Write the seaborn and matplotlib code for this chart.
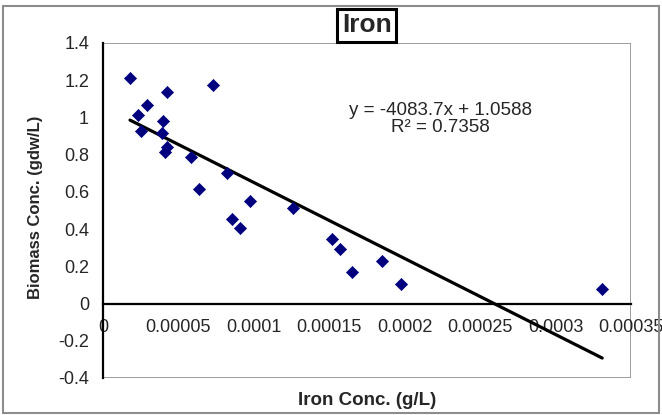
"""Iron concentration vs biomass concentration scatter with linear trend line."""

import matplotlib

matplotlib.use("Agg")
import matplotlib.pyplot as plt
import numpy as np
import pandas as pd
import seaborn as sns
from matplotlib.patches import Rectangle
from matplotlib.ticker import FuncFormatter, MultipleLocator

IRON_CONC = [
    1.79e-5, 2.32e-5, 2.92e-5, 2.52e-5, 3.98e-5, 3.91e-5, 4.24e-5, 4.24e-5,
    4.11e-5, 7.29e-5, 5.84e-5, 6.37e-5, 8.22e-5, 8.55e-5, 9.08e-5, 9.75e-5,
    1.26e-4, 1.52e-4, 1.57e-4, 1.65e-4, 1.85e-4, 1.976e-4, 3.31e-4,
]
BIOMASS = [
    1.213, 1.013, 1.067, 0.927, 0.982, 0.917, 1.137, 0.842,
    0.815, 1.175, 0.788, 0.616, 0.702, 0.455, 0.406, 0.551,
    0.514, 0.347, 0.293, 0.170, 0.229, 0.105, 0.078,
]
SLOPE = -4083.7
INTERCEPT = 1.0588
R_SQUARED = 0.7358

FONT = ["Liberation Sans", "DejaVu Sans"]


def tick_fmt(value, _pos):
    text = f"{value:.5f}".rstrip("0").rstrip(".")
    return "0" if text in ("-0", "0") else text


def main() -> None:
    sns.set_style("white")
    plt.rcParams["font.family"] = FONT

    df = pd.DataFrame({"iron": IRON_CONC, "biomass": BIOMASS})

    fig = plt.figure(figsize=(6.62, 4.15), dpi=100)
    ax = fig.add_axes([0.1556, 0.0892, 0.953 - 0.1556, 0.8964 - 0.0892])

    # trend line across the data range
    xs = np.array([df["iron"].min(), df["iron"].max()])
    sns.lineplot(x=xs, y=SLOPE * xs + INTERCEPT, ax=ax, color="black", linewidth=2.3)

    sns.scatterplot(
        data=df, x="iron", y="biomass", ax=ax, marker="D", s=38,
        color="#00007F", edgecolor="#00007F", linewidth=0.5, zorder=3,
    )

    ax.set_xlim(0, 0.00035)
    ax.set_ylim(-0.4, 1.4)
    ax.xaxis.set_major_locator(MultipleLocator(0.00005))
    ax.yaxis.set_major_locator(MultipleLocator(0.2))
    ax.xaxis.set_major_formatter(FuncFormatter(tick_fmt))
    ax.yaxis.set_major_formatter(FuncFormatter(tick_fmt))

    # Excel-style axis crossing at y = 0
    ax.spines["bottom"].set_position(("data", 0))
    ax.spines["bottom"].set_color("black")
    ax.spines["bottom"].set_linewidth(1.6)
    ax.spines["left"].set_color("black")
    ax.spines["left"].set_linewidth(1.6)
    ax.spines["top"].set_visible(False)
    ax.spines["right"].set_visible(False)
    ax.add_patch(Rectangle((0, 0), 1, 1, transform=ax.transAxes, fill=False,
                           edgecolor="#8C8C8C", linewidth=1.2, zorder=0))

    ax.tick_params(axis="both", direction="out", length=5, width=1.6,
                   color="black", labelsize=13)
    ax.tick_params(axis="x", pad=6)
    ax.tick_params(axis="y", pad=5)

    ax.set_xlabel("")
    ax.set_ylabel("")
    fig.text(0.554, 0.036, "Iron Conc. (g/L)", ha="center", va="center",
             fontsize=13.5, fontweight="bold")
    fig.text(0.053, 0.501, "Biomass Conc. (gdw/L)", ha="center", va="center",
             rotation=90, fontsize=12, fontweight="bold")

    fig.text(0.554, 0.939, "Iron", ha="center", va="center", fontsize=19,
             fontweight="bold",
             bbox=dict(boxstyle="square,pad=0.18", facecolor="white",
                       edgecolor="black", linewidth=2.2))

    ax.text(0.000224, 1.036, f"y = {SLOPE}x + {INTERCEPT}", ha="center",
            va="center", fontsize=13.5)
    ax.text(0.000224, 0.944, f"R² = {R_SQUARED}", ha="center", va="center",
            fontsize=13.5)

    fig.patches.append(Rectangle((0.004, 0.005), 0.992, 0.98,
                                 transform=fig.transFigure, fill=False,
                                 edgecolor="#8C8C8C", linewidth=1.5))

    fig.savefig("out.png", dpi=100)
    plt.close(fig)


if __name__ == "__main__":
    main()
